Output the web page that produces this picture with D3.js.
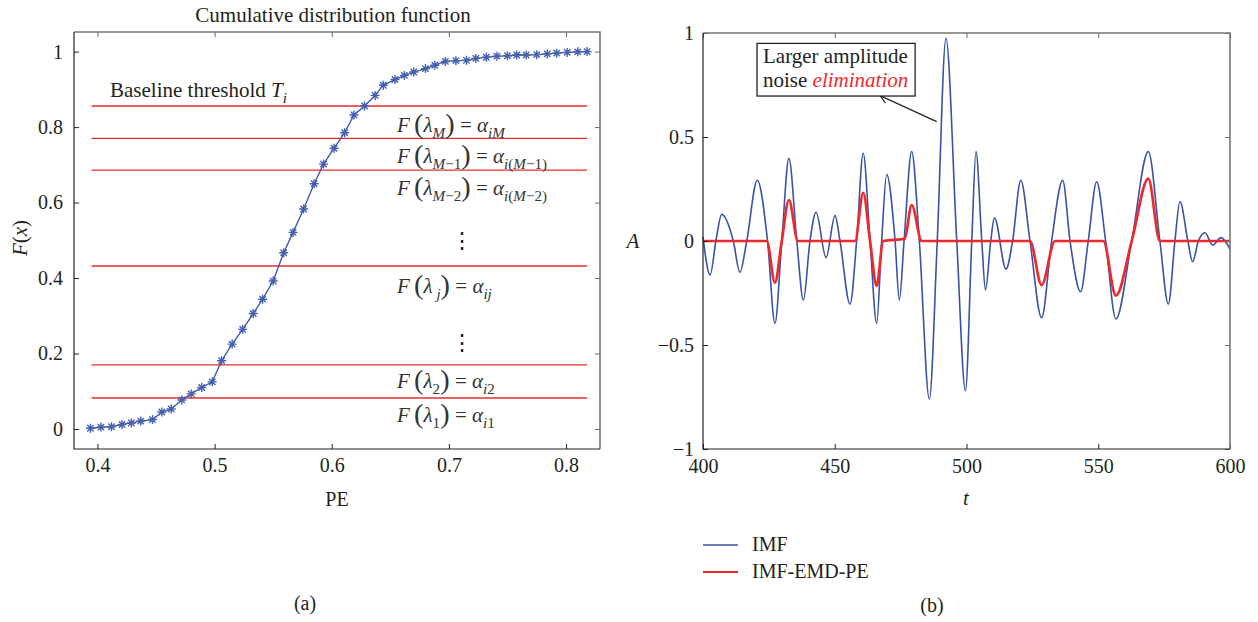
<!DOCTYPE html>
<html>
<head>
<meta charset="utf-8">
<script src="https://cdn.jsdelivr.net/npm/d3@7"></script>
<style>
  body { margin: 0; background: #fff; }
  svg { display: block; }
  text { font-family: "Liberation Serif", "Times New Roman", Times, serif; fill: #231f20; }
</style>
</head>
<body>
<div id="chart"></div>
<script>
// ---- (a) cumulative distribution function ----
const pe = [0.394, 0.403, 0.412, 0.421, 0.429, 0.437, 0.447, 0.455, 0.463, 0.472,
  0.480, 0.489, 0.498, 0.506, 0.515, 0.524, 0.533, 0.541, 0.550, 0.559,
  0.567, 0.576, 0.585, 0.593, 0.602, 0.611, 0.619, 0.628, 0.637, 0.644,
  0.654, 0.662, 0.670, 0.680, 0.688, 0.697, 0.706, 0.715, 0.723, 0.732,
  0.741, 0.750, 0.758, 0.766, 0.775, 0.784, 0.792, 0.801, 0.810, 0.818];
const cdf = [0.002, 0.005, 0.006, 0.012, 0.016, 0.021, 0.025, 0.045, 0.053, 0.077,
  0.093, 0.110, 0.125, 0.181, 0.225, 0.264, 0.306, 0.344, 0.392, 0.467,
  0.521, 0.583, 0.650, 0.702, 0.744, 0.785, 0.832, 0.856, 0.884, 0.911,
  0.926, 0.937, 0.946, 0.955, 0.964, 0.974, 0.976, 0.977, 0.982, 0.985,
  0.988, 0.989, 0.991, 0.991, 0.992, 0.994, 0.996, 0.998, 0.9995, 1.0];
const thresholds = [0.082, 0.170, 0.432, 0.686, 0.770, 0.856];
const thresholdRange = [0.395, 0.818];
const peTicks = [0.4, 0.5, 0.6, 0.7, 0.8];
const cdfTicks = [0, 0.2, 0.4, 0.6, 0.8, 1];

// ---- (b) IMF vs IMF-EMD-PE (key points) ----
const imfT = [400, 402.7, 404.9, 407.1, 411.5, 414, 416.6, 420.6, 424.5, 427.3,
  429.9, 432.6, 435.6, 438.1, 440.6, 442.9, 446.7, 450.1, 452, 455.8,
  458.3, 460.8, 463.4, 465.9, 467.8, 469.7, 472.9, 474.5, 476.3, 479.2,
  482.1, 485.9, 488.9, 492.2, 496.3, 499.6, 502, 503.6, 505.8, 507.2,
  509.2, 510.6, 515, 517.5, 520.6, 524.1, 528.5, 532.3, 536.5, 539.3,
  543.3, 546.2, 549.4, 552.8, 556.7, 562.7, 569, 573.4, 576.6, 579.1,
  581, 584, 585.8, 588, 590.5, 593.4, 596.6, 600];
const imfA = [0.02, -0.163, 0, 0.128, 0, -0.15, 0, 0.292, 0, -0.396,
  0, 0.397, 0, -0.284, 0, 0.138, -0.08, 0.122, 0, -0.304,
  0, 0.422, 0, -0.396, 0, 0.32, 0, -0.284, 0, 0.43,
  0, -0.76, 0, 0.975, 0, -0.72, 0, 0.43, 0, -0.236,
  0, 0.112, -0.135, 0, 0.292, 0, -0.369, 0, 0.292, 0,
  -0.244, 0, 0.285, 0, -0.375, 0, 0.43, 0, -0.304, 0,
  0.19, 0, -0.1, 0, 0.04, -0.02, 0.016, -0.04];
const pelT = [400, 424.2, 427.3, 429.9, 432.6, 436, 457.7, 460.8, 463.4, 465.9,
  468.4, 476.5, 479.2, 483, 524.1, 528.5, 533.6, 551.9, 556.7, 562.7,
  569, 573.4, 600];
const pelA = [0, 0, -0.2, 0, 0.197, 0, 0, 0.232, 0, -0.215,
  0, 0.01, 0.173, 0, 0, -0.212, 0, 0, -0.263, 0,
  0.30, 0, 0];
const tTicks = [400, 450, 500, 550, 600];
const aTicks = [-1, -0.5, 0, 0.5, 1];
const seriesNames = ["IMF", "IMF-EMD-PE"];

const blue = "#3a52a3", red = "#ec2a2d";
const FONT = '"Liberation Serif", "Times New Roman", Times, serif';
const W = 1258, H = 622;

const svg = d3.select("#chart").append("svg")
  .attr("width", W).attr("height", H)
  .style("font-family", FONT);

// frame + inward ticks for a box plot
function drawBox(x, y, xt, yt, xfmt, yfmt, xpad, ypad) {
  const [x0, x1] = x.range(), [y1, y0] = y.range();
  const g = svg.append("g");
  const bottom = g.append("g").attr("transform", `translate(0,${y1})`)
    .call(d3.axisBottom(x).tickValues(xt).tickFormat(xfmt)
      .tickSizeInner(-5).tickSizeOuter(0).tickPadding(xpad));
  const left = g.append("g").attr("transform", `translate(${x0},0)`)
    .call(d3.axisLeft(y).tickValues(yt).tickFormat(yfmt)
      .tickSizeInner(-5).tickSizeOuter(0).tickPadding(ypad));
  const top = g.append("g").attr("transform", `translate(0,${y0})`)
    .call(d3.axisTop(x).tickValues(xt).tickFormat("").tickSizeInner(-5).tickSizeOuter(0));
  const right = g.append("g").attr("transform", `translate(${x1},0)`)
    .call(d3.axisRight(y).tickValues(yt).tickFormat("").tickSizeInner(-5).tickSizeOuter(0));
  [bottom, left, top, right].forEach(a => {
    a.attr("font-family", null).attr("font-size", 20);
    a.select(".domain").remove();
    a.selectAll("text").style("font-family", FONT).attr("fill", "#231f20");
  });
  bottom.selectAll("line").attr("stroke", "#222");
  left.selectAll("line").attr("stroke", "#222");
  top.selectAll("line").attr("stroke", "#666");
  right.selectAll("line").attr("stroke", "#666");
  g.append("path").attr("fill", "none").attr("stroke", "#777").attr("stroke-width", 1.6)
    .attr("d", `M${x0},${y0}H${x1}V${y1}`);
  g.append("path").attr("fill", "none").attr("stroke", "#222").attr("stroke-width", 1.2)
    .attr("d", `M${x0},${y0}V${y1}H${x1}`);
}

const numFmt = d => (d < 0 ? "\u2212" : "") + (Math.abs(d) === 1 || d === 0 ? Math.abs(d) : Math.abs(d).toFixed(1));

// ---------- left panel ----------
const xL = d3.scaleLinear().domain([0.38, 0.829]).range([74, 600]);
const yL = d3.scaleLinear().domain([-0.053, 1.052]).range([449, 32]);

svg.append("g").selectAll("line")
  .data(thresholds).enter().append("line")
  .attr("x1", xL(thresholdRange[0])).attr("x2", xL(thresholdRange[1]))
  .attr("y1", d => yL(d)).attr("y2", d => yL(d))
  .attr("stroke", red).attr("stroke-width", 1.4);

const cdfPts = pe.map((p, i) => [p, cdf[i]]);
svg.append("path").datum(cdfPts)
  .attr("fill", "none").attr("stroke", blue).attr("stroke-width", 1.3)
  .attr("d", d3.line().x(d => xL(d[0])).y(d => yL(d[1])));

const star = r => {
  const a = r * Math.SQRT1_2;
  return `M${-r},0H${r}M0,${-r}V${r}M${-a},${-a}L${a},${a}M${-a},${a}L${a},${-a}`;
};
svg.append("g").selectAll("path")
  .data(cdfPts).enter().append("path")
  .attr("transform", d => `translate(${xL(d[0])},${yL(d[1])})`)
  .attr("d", star(4.5))
  .attr("stroke", "#4560b0").attr("stroke-width", 1.4).attr("fill", "none");

drawBox(xL, yL, peTicks, cdfTicks, d3.format(".1f"), numFmt, 9, 11);

svg.append("text").attr("x", 333).attr("y", 22).attr("text-anchor", "middle")
  .attr("font-size", 21).text("Cumulative distribution function");
svg.append("text").attr("x", 337).attr("y", 506).attr("text-anchor", "middle")
  .attr("font-size", 20).text("PE");
svg.append("text").attr("x", 305).attr("y", 610).attr("text-anchor", "middle")
  .attr("font-size", 20).text("(a)");

const yLab = svg.append("text").attr("transform", "translate(27,238) rotate(-90)")
  .attr("text-anchor", "middle").attr("font-size", 21);
yLab.append("tspan").attr("font-style", "italic").text("F");
yLab.append("tspan").text("(");
yLab.append("tspan").attr("font-style", "italic").text("x");
yLab.append("tspan").text(")");

// math label helper: parts = [text, italic, sub, big]
function mathText(x, y, parts, size) {
  const t = svg.append("text").attr("x", x).attr("y", y).attr("font-size", size);
  let shift = 0;
  parts.forEach(([s, it, sub, big]) => {
    const target = sub ? size * 0.28 : (big ? size * 0.05 : 0);
    t.append("tspan")
      .attr("dy", target - shift)
      .attr("font-size", sub ? size * 0.72 : (big ? size * 1.35 : size))
      .attr("font-style", it ? "italic" : "normal")
      .attr("fill", "#333")
      .text(s);
    shift = target;
  });
  return t;
}
// subscripts given as lists of [text, italic]
const lbl = (sub1, sub2) => [
  ["F", 1], ["\u2009", 0], ["(", 0, 0, 1], ["\u03bb", 1],
  ...sub1.map(([s, it]) => [s, it, 1]), [")", 0, 0, 1],
  [" = ", 0], ["\u03b1", 1],
  ...sub2.map(([s, it]) => [s, it, 1])
];
mathText(110, 97, [["Baseline threshold ", 0], ["T", 1], ["i", 1, 1]], 21)
  .selectAll("tspan").attr("fill", "#231f20");
mathText(397, 132, lbl([["M", 1]], [["iM", 1]]), 21);
mathText(397, 163, lbl([["M", 1], ["\u22121", 0]], [["i", 1], ["(", 0], ["M", 1], ["\u22121)", 0]]), 21);
mathText(397, 195, lbl([["M", 1], ["\u22122", 0]], [["i", 1], ["(", 0], ["M", 1], ["\u22122)", 0]]), 21);
mathText(397, 293, lbl([[" j", 1]], [["ij", 1]]), 21);
mathText(397, 388, lbl([["2", 0]], [["i", 1], ["2", 0]]), 21);
mathText(397, 422, lbl([["1", 0]], [["i", 1], ["1", 0]]), 21);
[248, 350].forEach(yy => svg.append("text").attr("x", 462).attr("y", yy)
  .attr("text-anchor", "middle").style("font-family", '"DejaVu Serif", serif')
  .attr("font-size", 22).attr("fill", "#333").text("\u22ee"));

// ---------- right panel ----------
const xR = d3.scaleLinear().domain([400, 600]).range([703, 1230]);
const yR = d3.scaleLinear().domain([-1, 1]).range([449, 33]);

const lineR = d3.line().x(d => xR(d[0])).y(d => yR(d[1])).curve(d3.curveMonotoneX);
svg.append("path").datum(imfT.map((t, i) => [t, imfA[i]]))
  .attr("fill", "none").attr("stroke", blue).attr("stroke-width", 1.6)
  .attr("stroke-linejoin", "round").attr("d", lineR);
svg.append("path").datum(pelT.map((t, i) => [t, pelA[i]]))
  .attr("fill", "none").attr("stroke", red).attr("stroke-width", 2.7)
  .attr("stroke-linejoin", "round").attr("d", lineR);

drawBox(xR, yR, tTicks, aTicks, d3.format("d"), numFmt, 10, 9);

svg.append("text").attr("x", 633).attr("y", 248).attr("text-anchor", "middle")
  .attr("font-size", 21).attr("font-style", "italic").text("A");
svg.append("text").attr("x", 966).attr("y", 505).attr("text-anchor", "middle")
  .attr("font-size", 21).attr("font-style", "italic").text("t");
svg.append("text").attr("x", 932).attr("y", 612).attr("text-anchor", "middle")
  .attr("font-size", 20).text("(b)");

// annotation
const defs = svg.append("defs");
defs.append("marker").attr("id", "arrow").attr("viewBox", "-10 -6 12 12")
  .attr("markerWidth", 12).attr("markerHeight", 12).attr("markerUnits", "userSpaceOnUse")
  .attr("orient", "auto")
  .append("path").attr("d", "M-8,-4.5L0,0L-8,4.5").attr("fill", "none")
  .attr("stroke", "#222").attr("stroke-width", 1.2);
svg.append("line")
  .attr("x1", xR(488.7)).attr("y1", yR(0.574))
  .attr("x2", xR(467.2)).attr("y2", yR(0.699))
  .attr("stroke", "#222").attr("stroke-width", 1.2).attr("marker-end", "url(#arrow)");
svg.append("rect")
  .attr("x", xR(420.5)).attr("y", yR(0.95))
  .attr("width", xR(480.5) - xR(420.5)).attr("height", yR(0.697) - yR(0.95))
  .attr("fill", "#fff").attr("stroke", "#222").attr("stroke-width", 1.3);
svg.append("text").attr("x", 763).attr("y", 63).attr("font-size", 21).text("Larger amplitude");
const l2 = svg.append("text").attr("x", 763).attr("y", 87).attr("font-size", 21);
l2.append("tspan").text("noise ");
l2.append("tspan").attr("font-style", "italic").style("fill", red).text("elimination");

// legend
const leg = svg.append("g");
seriesNames.forEach((n, i) => {
  const yy = 545 + i * 27;
  leg.append("line").attr("x1", 703).attr("x2", 738).attr("y1", yy).attr("y2", yy)
    .attr("stroke", i ? red : blue).attr("stroke-width", i ? 1.8 : 1.5);
  leg.append("text").attr("x", 752).attr("y", yy + 6).attr("font-size", 20).text(n);
});
</script>
</body>
</html>
